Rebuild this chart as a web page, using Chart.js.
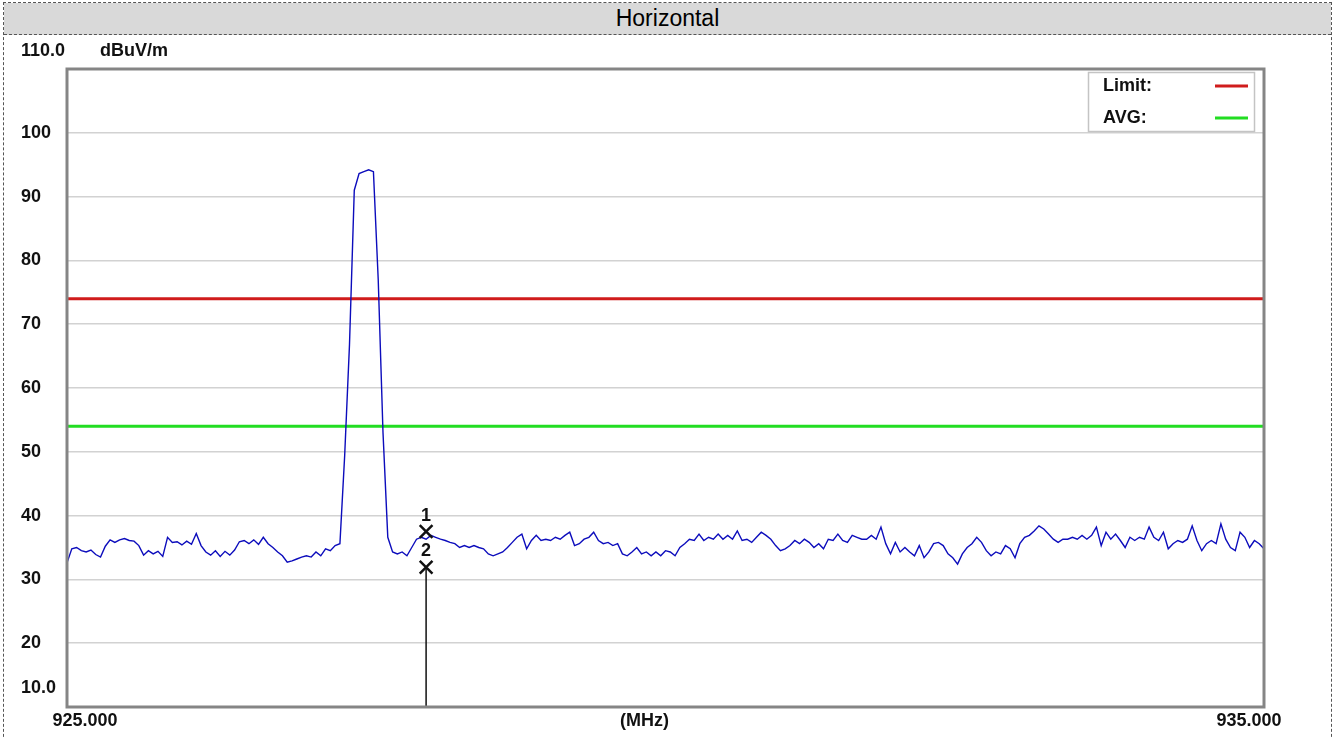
<!DOCTYPE html>
<html lang="en">
<head>
  <meta charset="UTF-8">
  <title>Horizontal</title>
  <script src="https://cdn.jsdelivr.net/npm/chart.js"></script>
  <style>
    html, body {
      margin: 0;
      padding: 0;
      background: #fff;
    }
    body {
      width: 1335px;
      height: 738px;
      overflow: hidden;
      position: relative;
    }
    .moldura {
      position: absolute;
      left: 3px;
      top: 2px;
      width: 1329px;
      height: 780px;
      box-sizing: border-box;
      border: 1px dashed #555;
    }
    .titulo {
      height: 31px;
      line-height: 31px;
      background: #d9d9d9;
      border-bottom: 1px dashed #555;
      text-align: center;
      font-family: "Liberation Sans", Arial, sans-serif;
      font-size: 23px;
      color: #000;
    }
    #grafico {
      position: absolute;
      left: 0;
      top: 0;
    }
  </style>
</head>

<body>
  <div class="moldura">
    <div class="titulo">Horizontal</div>
  </div>
  <canvas id="grafico" width="1335" height="738"></canvas>

<script>
  // sweep: 925 - 935 MHz, one reading every 0.04 MHz
  const freqStart = 925;
  const freqStep = 0.04;

  const levels = [
    32.6, 34.8, 35.0, 34.5, 34.3, 34.6, 33.9, 33.5, 35.2, 36.2,
    35.8, 36.2, 36.4, 36.1, 36.0, 35.3, 33.8, 34.5, 34.0, 34.4,
    33.6, 36.6, 35.8, 35.9, 35.4, 36.0, 35.5, 37.2, 35.3, 34.3,
    33.8, 34.5, 33.6, 34.4, 33.8, 34.6, 35.9, 36.1, 35.6, 36.2,
    35.5, 36.6, 35.6, 35.0, 34.3, 33.7, 32.7, 32.9, 33.2, 33.5,
    33.7, 33.5, 34.3, 33.7, 34.8, 34.5, 35.3, 35.6, 49.5, 66.8,
    91.0, 93.6, 93.9, 94.2, 93.9, 77.0, 53.0, 36.6, 34.3, 34.0,
    34.3, 33.7, 35.0, 36.3, 36.6, 36.3, 36.9, 36.6, 36.3, 36.1,
    35.8, 35.6, 35.0, 35.3, 35.0, 35.3, 35.0, 34.8, 34.0, 33.7,
    34.0, 34.3, 35.0, 35.8, 36.6, 37.1, 34.8, 36.1, 36.9, 36.1,
    36.3, 36.1, 36.6, 36.3, 36.9, 37.4, 35.3, 35.6, 36.3, 36.6,
    37.4, 36.1, 35.6, 35.8, 35.3, 35.6, 34.0, 33.7, 34.3, 35.0,
    34.0, 34.3, 33.7, 34.3, 33.7, 34.5, 34.3, 33.7, 35.0, 35.6,
    36.3, 36.1, 37.1, 36.1, 36.6, 36.3, 37.1, 36.3, 36.9, 36.3,
    37.6, 36.1, 36.3, 35.8, 36.6, 37.4, 36.9, 36.3, 35.3, 34.5,
    34.8, 35.3, 36.1, 35.6, 36.3, 35.8, 35.0, 35.6, 34.8, 36.3,
    36.1, 37.1, 36.1, 35.8, 36.9, 36.6, 36.3, 36.3, 36.9, 36.3,
    38.2, 35.6, 34.0, 35.8, 34.3, 35.0, 34.3, 33.7, 35.3, 33.4,
    34.3, 35.6, 35.8, 35.3, 34.0, 33.4, 32.4, 34.0, 35.0, 35.6,
    36.6, 35.8, 34.5, 33.7, 34.3, 34.0, 35.3, 34.8, 33.4, 35.6,
    36.6, 36.9, 37.6, 38.4, 37.9, 37.1, 36.3, 35.8, 36.3, 36.3,
    36.6, 36.3, 36.9, 36.3, 36.9, 38.2, 35.3, 37.4, 36.3, 37.1,
    36.1, 35.0, 36.6, 36.1, 36.6, 36.3, 38.2, 36.6, 36.1, 37.4,
    34.8, 35.6, 36.1, 35.8, 36.3, 38.4, 36.1, 34.5, 35.6, 36.1,
    35.6, 38.7, 36.3, 35.0, 34.5, 37.4, 36.6, 35.0, 36.1, 35.6,
    34.8
  ];

  // limit lines
  const limitLevel = 74;
  const avgLevel = 54;

  // markers
  const markerNames = ['1', '2'];
  const markerFreq = [928.0, 928.0];
  const markerLevel = [37.5, 31.9];

  // axis
  const yTicks = [20, 30, 40, 50, 60, 70, 80, 90, 100];
  const yTop = '110.0';
  const yBottom = '10.0';
  const yUnit = 'dBuV/m';
  const xLeft = '925.000';
  const xRight = '935.000';
  const xUnit = '(MHz)';

  var traco = [];
  for (let i = 0; i < levels.length; i++) {
    traco.push({ x: freqStart + i * freqStep, y: levels[i] });
  }

  var marcas = [];
  for (let i = 0; i < markerFreq.length; i++) {
    marcas.push({ x: markerFreq[i], y: markerLevel[i] });
  }

  const fonteNegrito = 'bold 18px "Liberation Sans", Arial, sans-serif';

  const desenhos = {
    id: 'desenhos',
    afterDatasetsDraw(chart) {
      const ctx = chart.ctx;
      const area = chart.chartArea;
      ctx.save();
      ctx.strokeStyle = '#858585';
      ctx.lineWidth = 3;
      ctx.strokeRect(area.left, area.top, area.right - area.left, area.bottom - area.top);
      ctx.restore();
    },
    afterDraw(chart) {
      const ctx = chart.ctx;
      const area = chart.chartArea;
      const sx = chart.scales.x;
      const sy = chart.scales.y;

      ctx.save();
      ctx.fillStyle = '#111';
      ctx.font = fonteNegrito;
      ctx.textBaseline = 'middle';

      // y labels
      ctx.textAlign = 'left';
      yTicks.forEach(v => {
        ctx.fillText(String(v), 21, sy.getPixelForValue(v));
      });
      ctx.fillText(yTop, 21, area.top - 18);
      ctx.fillText(yUnit, 100, area.top - 18);
      ctx.fillText(yBottom, 21, sy.getPixelForValue(10) - 19);

      // x labels
      ctx.textAlign = 'center';
      ctx.fillText(xLeft, sx.getPixelForValue(925) + 18, area.bottom + 14);
      ctx.fillText(xRight, sx.getPixelForValue(935) - 15, area.bottom + 14);
      ctx.fillText(xUnit, (area.left + area.right) / 2 - 21, area.bottom + 14);

      // legend box
      ctx.strokeStyle = '#c4c4c4';
      ctx.lineWidth = 1.5;
      ctx.strokeRect(1088.5, 72.5, 166, 59);
      ctx.textAlign = 'left';
      ctx.fillText('Limit:', 1103, 86);
      ctx.fillText('AVG:', 1103, 118);
      ctx.lineWidth = 3;
      ctx.strokeStyle = '#d01c1c';
      ctx.beginPath();
      ctx.moveTo(1215, 86);
      ctx.lineTo(1248, 86);
      ctx.stroke();
      ctx.strokeStyle = '#22dd22';
      ctx.beginPath();
      ctx.moveTo(1215, 118);
      ctx.lineTo(1248, 118);
      ctx.stroke();

      // marker numbers
      const meta = chart.getDatasetMeta(0);
      ctx.textAlign = 'center';
      meta.data.forEach((p, i) => {
        ctx.fillText(markerNames[i], p.x, p.y - 16);
      });
      ctx.restore();
    }
  };

  const ctxGraf = document.getElementById('grafico');

  const grafico = new Chart(ctxGraf, {
    type: 'line',
    data: {
      datasets: [{
        label: 'Markers',
        data: marcas,
        showLine: false,
        pointStyle: 'crossRot',
        pointRadius: 9,
        borderWidth: 2.5,
        borderColor: '#111',
        backgroundColor: '#111',
        order: 0
      }, {
        label: 'Marker line',
        data: [{ x: markerFreq[1], y: markerLevel[1] }, { x: markerFreq[1], y: 10 }],
        borderColor: '#111',
        borderWidth: 1.5,
        pointRadius: 0,
        order: 1
      }, {
        label: 'Horizontal',
        data: traco,
        borderColor: '#0c0cbc',
        borderWidth: 1.4,
        pointRadius: 0,
        tension: 0,
        order: 2
      }, {
        label: 'Limit',
        data: [{ x: 925, y: limitLevel }, { x: 935, y: limitLevel }],
        borderColor: '#d01c1c',
        borderWidth: 3,
        pointRadius: 0,
        order: 3
      }, {
        label: 'AVG',
        data: [{ x: 925, y: avgLevel }, { x: 935, y: avgLevel }],
        borderColor: '#22dd22',
        borderWidth: 3,
        pointRadius: 0,
        order: 4
      }]
    },
    options: {
      responsive: false,
      animation: false,
      layout: {
        padding: { left: 67, top: 69, right: 71, bottom: 31 }
      },
      plugins: {
        legend: { display: false },
        tooltip: { enabled: false }
      },
      scales: {
        x: {
          type: 'linear',
          min: 925,
          max: 935,
          grid: { display: false, drawTicks: false },
          ticks: { display: false },
          border: { display: false }
        },
        y: {
          min: 10,
          max: 110,
          ticks: { display: false, stepSize: 10 },
          grid: {
            drawTicks: false,
            lineWidth: 1.5,
            color: function (c) {
              if (c.tick.value == 10 || c.tick.value == 110) return 'rgba(0,0,0,0)';
              return '#d2d2d2';
            }
          },
          border: { display: false }
        }
      }
    },
    plugins: [desenhos]
  });
</script>
</body>
</html>
